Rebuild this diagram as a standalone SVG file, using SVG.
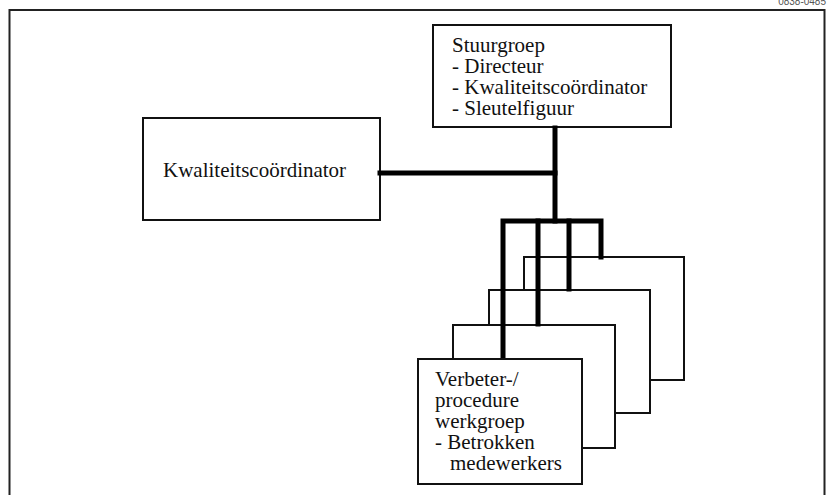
<svg xmlns="http://www.w3.org/2000/svg" width="829" height="495" viewBox="0 0 829 495">
<style>
.box{fill:#fff;stroke:#111;stroke-width:2}
.t{font-family:'Liberation Serif','Times New Roman','DejaVu Serif',serif;font-size:21px;fill:#111}
.c{stroke:#000;stroke-width:5;fill:none;stroke-linecap:square}
</style>
<rect width="829" height="495" fill="#fff"/>
<path d="M9.5,500 V10 H824.5 V500" fill="none" stroke="#222" stroke-width="2"/>
<text x="826" y="5" text-anchor="end" font-family="Liberation Sans, Arial, sans-serif" font-size="10" fill="#555">0838-0485</text>
<g id="stuurgroep">
<rect class="box" x="433" y="25" width="238" height="102"/>
<text class="t" font-family="Liberation Serif, serif" x="452" y="52">Stuurgroep</text>
<text class="t" font-family="Liberation Serif, serif" x="452" y="73">- Directeur</text>
<text class="t" font-family="Liberation Serif, serif" x="452" y="94">- Kwaliteitscoördinator</text>
<text class="t" font-family="Liberation Serif, serif" x="452" y="115">- Sleutelfiguur</text>
</g>
<g id="kwaliteitscoordinator">
<rect class="box" x="143" y="118" width="237" height="102"/>
<text class="t" font-family="Liberation Serif, serif" x="163" y="177">Kwaliteitscoördinator</text>
</g>
<g id="werkgroep4">
<rect class="box" x="524" y="257" width="160" height="123"/>
</g>
<g id="werkgroep3">
<rect class="box" x="489" y="290" width="161" height="123"/>
</g>
<g id="werkgroep2">
<rect class="box" x="453" y="325" width="162" height="123"/>
</g>
<g id="connectors">
<line class="c" x1="380" y1="173" x2="555" y2="173"/>
<line class="c" x1="555" y1="128" x2="555" y2="221"/>
<path class="c" d="M503,359 V221 H601 V257"/>
<line class="c" x1="538" y1="221" x2="538" y2="324"/>
<line class="c" x1="569" y1="221" x2="569" y2="289"/>
</g>
<g id="werkgroep1">
<rect class="box" x="418" y="359" width="164" height="125" stroke-width="2.5"/>
<text class="t" font-family="Liberation Serif, serif" x="435" y="386">Verbeter-/</text>
<text class="t" font-family="Liberation Serif, serif" x="435" y="407">procedure</text>
<text class="t" font-family="Liberation Serif, serif" x="435" y="428">werkgroep</text>
<text class="t" font-family="Liberation Serif, serif" x="435" y="449">- Betrokken</text>
<text class="t" font-family="Liberation Serif, serif" x="450" y="470">medewerkers</text>
</g>
</svg>
